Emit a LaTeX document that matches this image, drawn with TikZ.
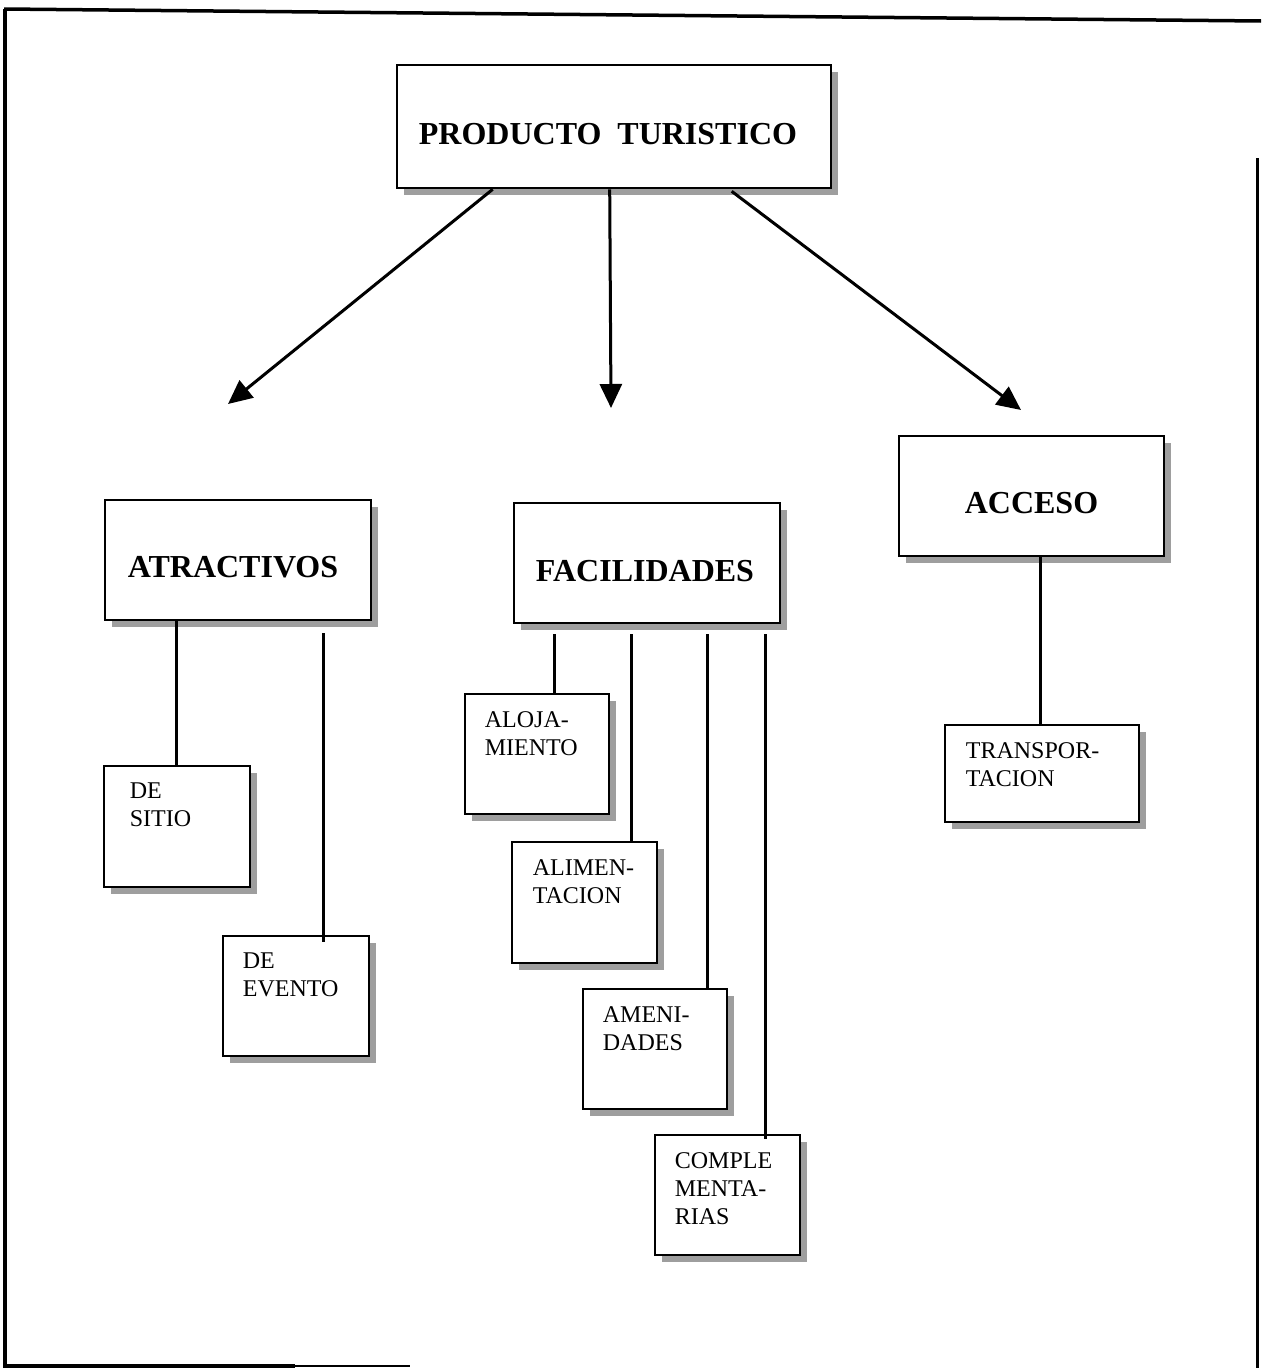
\documentclass[tikz,border=0pt]{standalone}
\usepackage{fontspec}
\setmainfont{Liberation Serif}
\usetikzlibrary{arrows.meta,shadows,calc}

\begin{document}
\begin{tikzpicture}[x=1pt,y=-1pt,
  box/.style={draw, line width=2.6pt, fill=white, inner sep=0pt,
    drop shadow={shadow xshift=7pt, shadow yshift=-7pt, fill=black!38, opacity=1}},
  head/.style={font=\fontsize{32}{38}\selectfont\bfseries, inner sep=0pt},
  lbl/.style={font=\fontsize{24}{28}\selectfont, align=left, inner sep=0pt, anchor=north west},
  arrow/.style={line width=3pt, -{Triangle[length=24pt,width=22pt]}},
  link/.style={line width=2.5pt}]
\useasboundingbox (0,0) rectangle (1261,1368);

% outer frame
\draw[line width=3.5pt] (4,9) -- (1261,21);
\draw[line width=3.5pt] (5,9) -- (5,1366) -- (295,1366);
\draw[line width=2pt] (295,1366) -- (410,1366);
\draw[line width=3pt] (1257,158) -- (1257,1368);

% main boxes
\node[box, minimum width=434pt, minimum height=123pt] (prod) at (614,126.5) {};
\node[box, minimum width=266pt, minimum height=120pt] (atr) at (238,560) {};
\node[box, minimum width=266pt, minimum height=120pt] (fac) at (647,563) {};
\node[box, minimum width=265pt, minimum height=120pt] (acc) at (1031.5,496) {};

\node[head] (prodT) at ($(prod.center)+(-6,8)$) {PRODUCTO\ \ TURISTICO};
\node[head] (atrT) at ($(atr.center)+(-5,7)$) {ATRACTIVOS};
\node[head] (facT) at ($(fac.center)+(-2,8)$) {FACILIDADES};
\node[head] (accT) at ($(acc.center)+(0,7)$) {ACCESO};

% sub boxes
\node[box, minimum width=146pt, minimum height=121pt] (sitio) at (177,826.5) {};
\node[box, minimum width=146pt, minimum height=120pt] (evento) at (296,996) {};
\node[box, minimum width=144pt, minimum height=120pt] (aloj) at (537,754) {};
\node[box, minimum width=145pt, minimum height=121pt] (alim) at (584.5,902.5) {};
\node[box, minimum width=144pt, minimum height=120pt] (amen) at (655,1049) {};
\node[box, minimum width=145pt, minimum height=120pt] (comp) at (727.5,1195) {};
\node[box, minimum width=194pt, minimum height=97pt] (trans) at (1042,773.5) {};

\node[lbl] (sitioT) at ($(sitio.north west)+(27,18)$) {DE\\SITIO};
\node[lbl] (eventoT) at ($(evento.north west)+(21,18)$) {DE\\EVENTO};
\node[lbl] (alojT) at ($(aloj.north west)+(21,19)$) {ALOJA-\\MIENTO};
\node[lbl] (alimT) at ($(alim.north west)+(22,19)$) {ALIMEN-\\TACION};
\node[lbl] (amenT) at ($(amen.north west)+(21,19)$) {AMENI-\\DADES};
\node[lbl] (compT) at ($(comp.north west)+(21,19)$) {COMPLE\\MENTA-\\RIAS};
\node[lbl] (transT) at ($(trans.north west)+(22,19)$) {TRANSPOR-\\TACION};

% arrows from the top box
\coordinate (tipA) at (228,404);
\coordinate (tipF) at (611,408);
\coordinate (tipC) at (1021,410);
\draw[arrow] ($(prod.south west)+(97,0)$) -- (tipA);
\draw[arrow] ($(prod.south west)+(214,0)$) -- (tipF);
\draw[arrow] ($(prod.south west)+(336,2)$) -- (tipC);

% links to the sub boxes
\draw[link] ($(atr.south west)+(73,0)$) -- ($(sitio.north west)+(74,0)$);
\draw[link] ($(atr.south west)+(220,12)$) -- ($(evento.north west)+(102,7)$);
\draw[link] ($(fac.south west)+(42,10)$) -- ($(aloj.north west)+(91,0)$);
\draw[link] ($(fac.south west)+(119,10)$) -- ($(alim.north west)+(121,0)$);
\draw[link] ($(fac.south west)+(195,10)$) -- ($(amen.north west)+(126,0)$);
\draw[link] ($(fac.south west)+(253,10)$) -- ($(comp.north west)+(112,5)$);
\draw[link] ($(acc.south west)+(143,0)$) -- ($(trans.north west)+(97,0)$);
\end{tikzpicture}
\end{document}
